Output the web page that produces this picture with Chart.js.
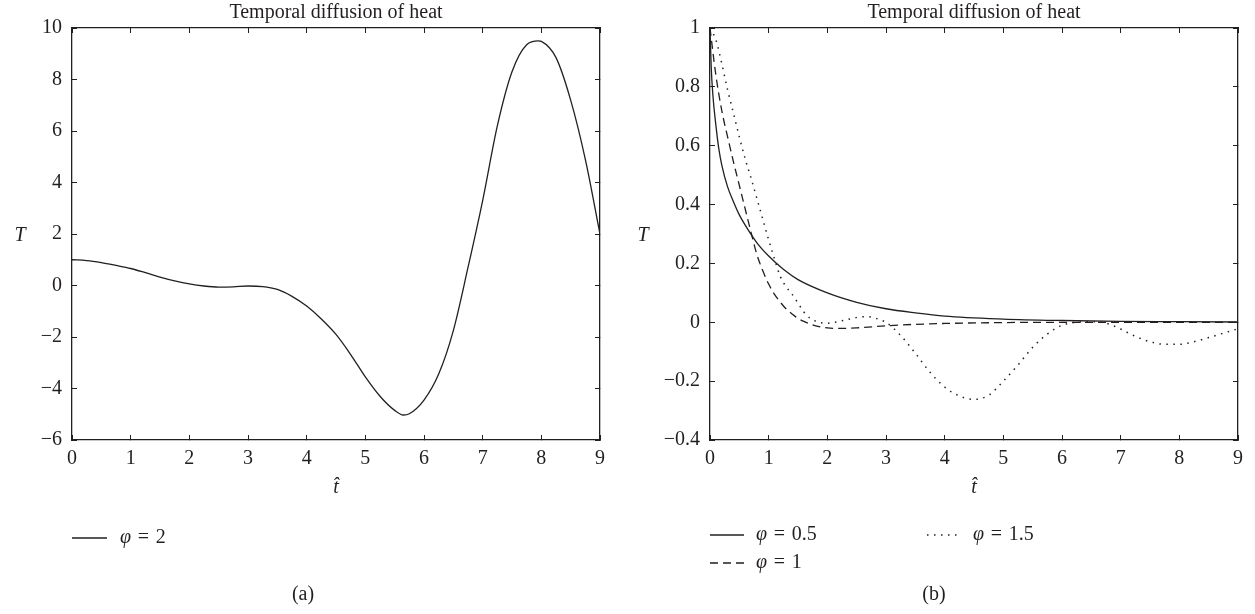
<!DOCTYPE html>
<html><head><meta charset="utf-8">
<script src="https://cdn.jsdelivr.net/npm/chart.js@4.4.1/dist/chart.umd.min.js"></script>
<style>
html,body{margin:0;padding:0;background:#fff;width:1255px;height:614px;overflow:hidden;}
canvas{position:absolute;top:0;}
#ca{left:0;} #cb{left:627px;}
</style></head><body>
<canvas id="ca" width="627" height="614"></canvas>
<canvas id="cb" width="628" height="614"></canvas>
<script>
// ---------- data ----------
const panelTitle = 'Temporal diffusion of heat';
const xTitle = 't\u0302';
const yTitle = 'T';
const xTicks = [0,1,2,3,4,5,6,7,8,9];
const yTicksA = [-6,-4,-2,0,2,4,6,8,10];
const yTicksB = [-0.4,-0.2,0,0.2,0.4,0.6,0.8,1];
const captionA = '(a)';
const captionB = '(b)';
const labelsA = ['φ = 2'];
const labelsB = ['φ = 0.5','φ = 1','φ = 1.5'];

// panel (a): phi = 2
const tA = [0,0.25,0.5,0.75,1,1.25,1.5,1.75,2,2.25,2.5,2.75,3,3.25,3.5,3.75,4,4.25,4.5,4.75,5,5.25,5.5,5.65,5.75,6,6.25,6.5,6.75,7,7.25,7.5,7.75,7.95,8,8.25,8.5,8.75,9];
const TA = [1.0,0.97,0.89,0.78,0.66,0.50,0.33,0.18,0.06,-0.02,-0.06,-0.05,-0.02,-0.04,-0.15,-0.42,-0.80,-1.30,-1.90,-2.68,-3.55,-4.30,-4.85,-5.03,-4.98,-4.45,-3.44,-1.75,0.7,3.3,6.2,8.3,9.35,9.5,9.48,8.85,7.2,4.9,2.0];

// panel (b): phi = 0.5
const tB1 = [0,0.02,0.05,0.1,0.15,0.2,0.3,0.4,0.5,0.6,0.8,1.0,1.25,1.5,2,2.5,3,3.5,4,5,6,7,8,9];
const TB1 = [1.0,0.87,0.77,0.67,0.59,0.535,0.46,0.41,0.365,0.33,0.27,0.225,0.18,0.145,0.10,0.068,0.046,0.032,0.021,0.011,0.006,0.003,0.002,0.001];
// phi = 1
const tB2 = [0,0.1,0.2,0.3,0.4,0.5,0.6,0.7,0.8,0.9,1.0,1.1,1.2,1.3,1.4,1.5,1.6,1.8,2.0,2.2,2.5,3,3.5,4,5,6,7,8,9];
const TB2 = [1.0,0.84,0.72,0.63,0.545,0.465,0.385,0.305,0.23,0.175,0.13,0.095,0.068,0.045,0.028,0.013,0.003,-0.012,-0.019,-0.021,-0.019,-0.012,-0.007,-0.004,-0.001,0,0,0,0];
// phi = 1.5
const tB3 = [0,0.1,0.2,0.3,0.4,0.5,0.6,0.7,0.8,0.9,1.0,1.1,1.2,1.3,1.4,1.5,1.6,1.7,1.85,2.0,2.2,2.4,2.6,2.75,2.9,3.0,3.25,3.5,3.75,4.0,4.25,4.5,4.75,5.0,5.25,5.5,5.75,6.0,6.25,6.5,6.75,7.0,7.25,7.5,7.75,8.0,8.25,8.5,8.75,9.0];
const TB3 = [1.0,0.96,0.88,0.79,0.71,0.63,0.555,0.49,0.42,0.35,0.28,0.215,0.155,0.12,0.095,0.065,0.035,0.015,0.0,-0.003,0.003,0.012,0.019,0.018,0.008,0.0,-0.045,-0.105,-0.17,-0.22,-0.25,-0.262,-0.248,-0.2,-0.145,-0.085,-0.04,-0.01,0.0,0.002,-0.003,-0.023,-0.048,-0.066,-0.075,-0.075,-0.066,-0.052,-0.037,-0.022];

// ---------- styling ----------
const INK = '#231f20';
const FONT = "'Liberation Serif', 'DejaVu Serif', serif";
const FS = 20;

function pts(xs, ys){ return xs.map((x,i)=>({x:x, y:ys[i]})); }
function fmt(v){ const r = Math.round(v*10)/10; return (r<0?'\u2212':'') + String(Math.abs(r)); }

const decor = {
  id:'decor',
  afterDraw(chart, args, o){
    const ctx = chart.ctx, ca = chart.chartArea;
    ctx.save();
    ctx.fillStyle = INK;
    ctx.textBaseline = 'middle';
    // upright y-axis title
    ctx.textAlign = 'center';
    ctx.font = 'italic ' + FS + 'px ' + FONT;
    ctx.fillText(yTitle, ca.left - o.yTitleDx, (ca.top + ca.bottom) / 2 + 2);
    chart.data.datasets.forEach((ds,i)=>{
      const p = o.items[i];
      const x = ca.left + p.dx, y = ca.bottom + p.dy;
      ctx.strokeStyle = ds.borderColor; ctx.lineWidth = ds.borderWidth;
      ctx.setLineDash(ds.borderDash || []);
      ctx.beginPath(); ctx.moveTo(x, y); ctx.lineTo(x + o.lineLen, y); ctx.stroke();
      ctx.setLineDash([]);
      const lab = ds.label;
      let tx = x + o.textGap;
      ctx.textAlign = 'left';
      ctx.font = 'italic ' + FS + 'px ' + FONT;
      ctx.fillText(lab.charAt(0), tx, y);
      tx += ctx.measureText(lab.charAt(0)).width;
      ctx.font = FS + 'px ' + FONT;
      ctx.fillText(lab.slice(1).replace(/ = /, '\u2004=\u2004'), tx, y);
    });
    ctx.font = FS + 'px ' + FONT;
    ctx.textAlign = 'center';
    ctx.fillText(o.caption, ca.left + o.capDx, o.capY);
    ctx.restore();
  }
};

function makeChart(id, datasets, yTicks, cfg){
  return new Chart(document.getElementById(id), {
    type:'line',
    data:{datasets: datasets},
    plugins:[decor],
    options:{
      responsive:false, animation:false, devicePixelRatio:1,
      layout:{padding:{left:0,right:0,top:0,bottom:114}},
      elements:{point:{radius:0}, line:{cubicInterpolationMode:'monotone'}},
      plugins:{
        legend:{display:false}, tooltip:{enabled:false},
        title:{display:true, text:panelTitle, fullSize:false, color:INK,
               font:{family:FONT, size:FS, weight:'normal'}, padding:{top:1,bottom:0}},
        decor: cfg.decor
      },
      scales:{
        x:{type:'linear', position:'bottom', min:0, max:9,
           afterBuildTicks:s=>{ s.ticks = xTicks.map(v=>({value:v})); },
           afterFit:s=>{ s.height = 60; },
           grid:{drawOnChartArea:false, drawTicks:true, tickLength:-5, color:INK, lineWidth:1},
           border:{display:true, color:INK, width:1.3},
           ticks:{color:INK, padding:12, font:{family:FONT, size:FS}, maxRotation:0, callback:v=>fmt(v)},
           title:{display:true, text:xTitle, color:INK, font:{family:FONT, size:FS, style:'italic'}, padding:{top:3,bottom:0}}},
        x2:{type:'linear', position:'top', min:0, max:9,
           afterBuildTicks:s=>{ s.ticks = xTicks.map(v=>({value:v})); },
           afterFit:s=>{ s.height = 28 - (FS*1.2 + 1); },
           grid:{drawOnChartArea:false, drawTicks:true, tickLength:-5, color:INK, lineWidth:1},
           border:{display:true, color:INK, width:1.3},
           ticks:{display:false}},
        y:{type:'linear', position:'left', min:yTicks[0], max:yTicks[yTicks.length-1],
           afterBuildTicks:s=>{ s.ticks = yTicks.map(v=>({value:v})); },
           afterFit:s=>{ s.width = cfg.yWidth; },
           grid:{drawOnChartArea:false, drawTicks:true, tickLength:-5, color:INK, lineWidth:1},
           border:{display:true, color:INK, width:1.3},
           ticks:{color:INK, padding:15, font:{family:FONT, size:FS}, callback:v=>fmt(v)},
           title:{display:false}},
        y2:{type:'linear', position:'right', min:yTicks[0], max:yTicks[yTicks.length-1],
           afterBuildTicks:s=>{ s.ticks = yTicks.map(v=>({value:v})); },
           afterFit:s=>{ s.width = cfg.y2Width; },
           grid:{drawOnChartArea:false, drawTicks:true, tickLength:-5, color:INK, lineWidth:1},
           border:{display:true, color:INK, width:1.3},
           ticks:{display:false}}
      }
    }
  });
}

makeChart('ca', [
  {label:labelsA[0], data:pts(tA,TA), borderColor:INK, borderWidth:1.3, fill:false}
], yTicksA, {yWidth:72, y2Width:27,
  decor:{yTitleDx:52, lineLen:35, textGap:48, items:[{dx:0, dy:98}], caption:captionA, capDx:231, capY:595}});

makeChart('cb', [
  {label:labelsB[0], data:pts(tB1,TB1), borderColor:INK, borderWidth:1.3, fill:false},
  {label:labelsB[1], data:pts(tB2,TB2), borderColor:INK, borderWidth:1.3, borderDash:[8,5], fill:false},
  {label:labelsB[2], data:pts(tB3,TB3), borderColor:INK, borderWidth:1.5, borderDash:[1.5,5.5], fill:false}
], yTicksB, {yWidth:83, y2Width:17,
  decor:{yTitleDx:67, lineLen:34, textGap:46, items:[{dx:0, dy:95},{dx:0, dy:123},{dx:217, dy:95}], caption:captionB, capDx:224, capY:595}});
</script>
</body></html>
